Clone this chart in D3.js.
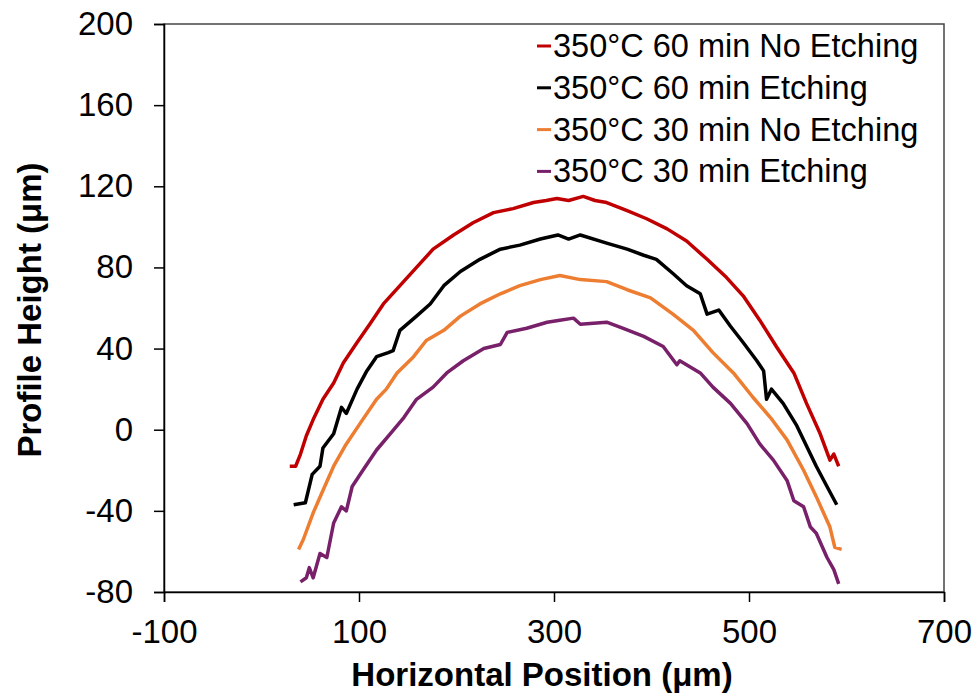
<!DOCTYPE html>
<html>
<head>
<meta charset="utf-8">
<script src="https://cdn.jsdelivr.net/npm/d3@7"></script>
<style>
  body { margin: 0; background: #fff; }
  text { font-family: "Liberation Sans", Arial, sans-serif; fill: #000; }
</style>
</head>
<body>
<div id="container"></div>
<script>
// series names + colours
var seriesNames = ["350°C 60 min No Etching", "350°C 60 min Etching", "350°C 30 min No Etching", "350°C 30 min Etching"];
var seriesColors = ["#c00000", "#000000", "#ed7d31", "#782069"];

// axis ticks
var xTicks = [-100, 100, 300, 500, 700];
var yTicks = [-80, -40, 0, 40, 80, 120, 160, 200];

// profiles: [position, height]
var red60 = [[29,-18],[35,-18],[40,-12],[46,-3],[53,5],[63,15],[74,23],[84,33],[98,43],[111,52],[125,62],[142,71],[159,80],[176,89],[197,96],[217,102],[238,107],[258,109],[279,112],[292,113],[303,114],[315,113],[330,115],[342,113],[354,112],[375,108],[395,104],[416,99],[436,93],[457,84],[477,75],[494,66],[511,54],[528,41],[546,28],[559,13],[573,-2],[583,-15],[587,-12],[592,-18]];
var black60 = [[33,-37],[45,-36],[52,-22],[60,-18],[63,-9],[74,-2],[82,11],[87,8],[98,20],[108,29],[118,36],[130,38],[135,39],[142,49],[159,56],[173,62],[187,71],[204,78],[224,84],[245,89],[265,91],[286,94],[304,96],[315,94],[327,96],[354,92],[375,89],[392,86],[405,84],[422,77],[436,71],[450,67],[457,57],[469,59],[481,51],[494,43],[508,34],[515,29],[518,15],[523,20],[535,13],[549,2],[559,-8],[569,-18],[580,-28],[590,-37]];
var orange30 = [[38,-59],[43,-54],[53,-41],[63,-30],[74,-18],[87,-7],[101,3],[118,15],[128,20],[139,28],[156,36],[169,44],[187,49],[204,56],[224,62],[245,67],[265,71],[286,74],[306,76],[327,74],[354,73],[375,69],[399,65],[422,57],[443,49],[463,38],[484,28],[504,16],[522,6],[539,-5],[556,-20],[569,-33],[583,-48],[588,-58],[595,-59]];
var purple30 = [[40,-75],[46,-73],[49,-68],[53,-73],[60,-61],[67,-63],[74,-46],[82,-38],[87,-40],[93,-28],[104,-20],[118,-10],[132,-2],[146,6],[159,15],[176,21],[190,28],[207,34],[228,40],[245,42],[252,48],[272,50],[293,53],[306,54],[320,55],[327,52],[354,53],[371,50],[392,46],[412,41],[426,32],[429,34],[450,28],[463,21],[481,13],[498,3],[511,-7],[525,-15],[539,-25],[546,-35],[556,-38],[563,-48],[569,-51],[580,-63],[587,-69],[592,-76]];

var seriesData = [red60, black60, orange30, purple30];

var width = 979, height = 699;
var margin = {left: 164, right: 35, top: 24, bottom: 107};

var svg = d3.select("div#container")
  .append("svg")
  .attr("width", width)
  .attr("height", height);

var x = d3.scaleLinear().domain([-100, 700]).range([margin.left, width - margin.right]);
var y = d3.scaleLinear().domain([-80, 200]).range([height - margin.bottom, margin.top]);

// frame
svg.append("rect")
  .attr("x", x(-100)).attr("y", y(200))
  .attr("width", x(700) - x(-100)).attr("height", y(-80) - y(200))
  .attr("fill", "none").attr("stroke", "#444").attr("stroke-width", 1.5);

// axes
var xAxis = svg.append("g")
  .attr("transform", "translate(0," + y(-80) + ")")
  .call(d3.axisBottom(x).tickValues(xTicks).tickSize(10).tickPadding(18).tickFormat(d3.format("d")));
var yAxis = svg.append("g")
  .attr("transform", "translate(" + x(-100) + ",0)")
  .call(d3.axisLeft(y).tickValues(yTicks).tickSize(10).tickPadding(21).tickFormat(d3.format("d")));

[xAxis, yAxis].forEach(function(a) {
  a.select(".domain").attr("stroke", "#000").attr("stroke-width", 1.5);
  a.selectAll(".tick line").attr("stroke", "#000").attr("stroke-width", 1.5);
  a.selectAll(".tick text").style("font-size", "33px").attr("fill", "#000")
    .text(function(d) { return d < 0 ? "-" + Math.abs(d) : d; });
});

// lines
var line = d3.line()
  .x(function(d) { return x(d[0]); })
  .y(function(d) { return y(d[1]); });

svg.append("g").selectAll("path")
  .data(seriesData)
  .enter().append("path")
  .attr("d", line)
  .attr("fill", "none")
  .attr("stroke", function(d, i) { return seriesColors[i]; })
  .attr("stroke-width", 3.5)
  .attr("stroke-linejoin", "round");

// axis titles
svg.append("text")
  .attr("x", (x(-100) + x(700)) / 2 - 12)
  .attr("y", 686)
  .attr("text-anchor", "middle")
  .style("font-size", "33px").style("font-weight", "bold")
  .text("Horizontal Position (μm)");

svg.append("text")
  .attr("transform", "translate(41," + (y(60) + 2) + ") rotate(-90)")
  .attr("text-anchor", "middle")
  .style("font-size", "33px").style("font-weight", "bold")
  .text("Profile Height (μm)");

// legend
var legend = svg.append("g").attr("transform", "translate(537,46)");
var items = legend.selectAll("g")
  .data(seriesNames)
  .enter().append("g")
  .attr("transform", function(d, i) { return "translate(0," + i * 41.8 + ")"; });
items.append("line")
  .attr("x1", 0).attr("x2", 14)
  .attr("stroke", function(d, i) { return seriesColors[i]; })
  .attr("stroke-width", 3);
items.append("text")
  .attr("x", 16).attr("y", 11)
  .style("font-size", "32.5px")
  .text(function(d) { return d; });
</script>
</body>
</html>
